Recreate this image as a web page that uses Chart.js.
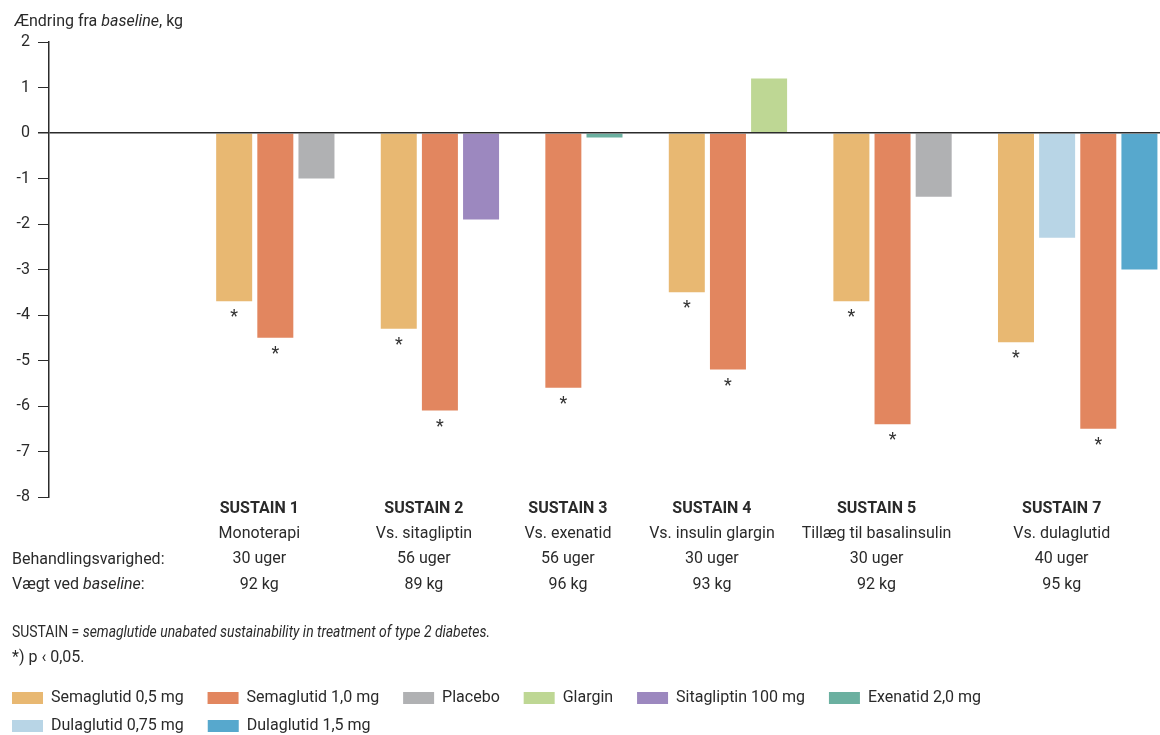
<!DOCTYPE html>
<html><head><meta charset="utf-8">
<script src="https://cdn.jsdelivr.net/npm/chart.js@4"></script>
<style>
html,body{margin:0;padding:0;background:#fff;overflow:hidden;}
#wrap{position:relative;width:1160px;height:744px;}
.txt{position:absolute;font-family:Roboto,sans-serif;color:#2a2a2a;white-space:nowrap;}
</style></head><body>
<div id="wrap"><canvas id="c"></canvas>
<div class="txt" style="left:14px;top:11px;font-size:16px;line-height:20px">Ændring fra <i>baseline</i>, kg</div>
<div class="txt" style="left:12px;top:546px;font-size:16px;line-height:25px">Behandlingsvarighed:</div>
<div class="txt" style="left:12px;top:571px;font-size:16px;line-height:25px">Vægt ved <i>baseline</i>:</div>
<div class="txt" style="left:12px;top:619px;font-size:16px;line-height:25px;transform:scaleX(0.87);transform-origin:0 50%">SUSTAIN = <i>semaglutide unabated sustainability in treatment of type 2 diabetes.</i></div>
<div class="txt" style="left:12px;top:644px;font-size:16px;line-height:25px">*) p ‹ 0,05.</div>
</div>
<script>
// ---- data ----
const groups = ["SUSTAIN 1","SUSTAIN 2","SUSTAIN 3","SUSTAIN 4","SUSTAIN 5","SUSTAIN 7"];
const comparisons = ["Monoterapi","Vs. sitagliptin","Vs. exenatid","Vs. insulin glargin","Tillæg til basalinsulin","Vs. dulaglutid"];
const durations = ["30 uger","56 uger","56 uger","30 uger","30 uger","40 uger"];
const baselineWeights = ["92 kg","89 kg","96 kg","93 kg","92 kg","95 kg"];
const seriesNames = ["Semaglutid 0,5 mg","Semaglutid 1,0 mg","Placebo","Glargin","Sitagliptin 100 mg","Exenatid 2,0 mg","Dulaglutid 0,75 mg","Dulaglutid 1,5 mg"];
const sema05      = [-3.7, -4.3, null, -3.5, -3.7, -4.6];
const sema10      = [-4.5, -6.1, -5.6, -5.2, -6.4, -6.5];
const placebo     = [-1.0, null, null, null, -1.4, null];
const glargin     = [null, null, null, 1.2, null, null];
const sitagliptin = [null, -1.9, null, null, null, null];
const exenatide   = [null, null, -0.1, null, null, null];
const dula075     = [null, null, null, null, null, -2.3];
const dula15      = [null, null, null, null, null, -3.0];
// significance (p < 0,05) per series per study
const sigSema05 = [true, true, false, true, true, true];
const sigSema10 = [true, true, true, true, true, true];
// bar order within each study (indices into seriesNames)
const barOrder = [[0,1,2],[0,1,4],[1,5],[0,1,3],[0,1,2],[0,6,1,7]];
const yMin = -8, yMax = 2, yStep = 1;

// ---- styles ----
const colors = ["#E8B872","#E2865F","#B0B1B3","#BED794","#9C88BF","#6BB0A0","#B8D5E6","#57A8CD"];
const textColor = "#2a2a2a";
const axisColor = "#2b2b2b";

// ---- build slots ----
const seriesValues = [sema05, sema10, placebo, glargin, sitagliptin, exenatide, dula075, dula15];
const seriesSig = [sigSema05, sigSema10, null, null, null, null, null, null];
const leadSlots = 4;
const slots = [];
for (let i = 0; i < leadSlots; i++) slots.push("slot" + slots.length);
const slotOf = seriesNames.map(() => ({}));
const groupCenters = [];
groups.forEach((g, gi) => {
  const start = slots.length;
  barOrder[gi].forEach(si => { slotOf[si][gi] = slots.length; slots.push("slot" + slots.length); });
  groupCenters.push((start + slots.length - 1) / 2);
  if (gi < groups.length - 1) slots.push("slot" + slots.length);
});
const datasets = seriesNames.map((name, si) => {
  const data = new Array(slots.length).fill(null);
  const sig = new Array(slots.length).fill(false);
  seriesValues[si].forEach((v, gi) => {
    if (v !== null && slotOf[si][gi] !== undefined) {
      data[slotOf[si][gi]] = v;
      if (seriesSig[si] && seriesSig[si][gi]) sig[slotOf[si][gi]] = true;
    }
  });
  return { label: name, data, sig, backgroundColor: colors[si], borderWidth: 0 };
});

Chart.defaults.font.family = "Roboto, sans-serif";
Chart.defaults.color = textColor;

const asteriskPlugin = {
  id: "asterisks",
  afterDatasetsDraw(chart) {
    const ctx = chart.ctx;
    ctx.save();
    ctx.font = "18px Roboto, sans-serif";
    ctx.fillStyle = "#333";
    ctx.textAlign = "center";
    ctx.textBaseline = "alphabetic";
    chart.data.datasets.forEach((ds, di) => {
      const meta = chart.getDatasetMeta(di);
      meta.data.forEach((el, i) => {
        if (ds.sig[i] && ds.data[i] !== null) {
          ctx.fillText("*", el.x, Math.max(el.y, el.base) + 21);
        }
      });
    });
    ctx.restore();
  }
};

const groupTicks = (scale) => { scale.ticks = groupCenters.map(v => ({ value: v })); };
const baseLegend = Chart.defaults.plugins.legend.labels.generateLabels;

new Chart(document.getElementById("c"), {
  type: "bar",
  data: { labels: slots, datasets },
  options: {
    responsive: true,
    maintainAspectRatio: false,
    animation: false,
    layout: { padding: { top: 42, left: 0, right: 0, bottom: 0 } },
    datasets: { bar: { grouped: false, categoryPercentage: 1, barPercentage: 0.875 } },
    plugins: {
      tooltip: { enabled: false },
      legend: {
        position: "bottom",
        align: "start",
        labels: {
          boxWidth: 31, boxHeight: 12, padding: 12, color: textColor,
          font: { size: 16 },
          generateLabels: (chart) => baseLegend(chart).map(l => Object.assign(l, { text: l.text + "   ", lineWidth: 0 }))
        }
      }
    },
    scales: {
      x: {
        type: "category", position: "bottom", weight: 0, offset: true,
        grid: { display: false, drawTicks: false }, border: { display: false },
        afterBuildTicks: groupTicks,
        afterFit: (s) => { s.height = 22; },
        ticks: {
          autoSkip: false, maxRotation: 0, minRotation: 0, padding: 2, labelOffset: -16,
          color: textColor, font: { size: 16, weight: "bold", lineHeight: "19px" },
          callback: (v, i) => groups[i]
        }
      },
      x2: {
        type: "category", labels: slots, position: "bottom", weight: 1, offset: true,
        grid: { display: false, drawTicks: false }, border: { display: false },
        afterBuildTicks: groupTicks,
        afterFit: (s) => { s.height = 159; },
        ticks: {
          autoSkip: false, maxRotation: 0, minRotation: 0, padding: 2, labelOffset: -16,
          color: textColor, font: { size: 16, lineHeight: "25.5px" },
          callback: (v, i) => [comparisons[i], durations[i], baselineWeights[i]]
        }
      },
      y: {
        min: yMin, max: yMax, position: "left",
        afterFit: (s) => { s.width = 49; },
        ticks: { stepSize: yStep, padding: 8, color: textColor, font: { size: 16 } },
        grid: {
          z: 1,
          color: (c) => (c.tick && c.tick.value === 0) ? axisColor : "rgba(0,0,0,0)",
          lineWidth: (c) => (c.tick && c.tick.value === 0) ? 1.5 : 1,
          tickColor: axisColor, tickLength: 11, drawTicks: true
        },
        border: { display: true, color: axisColor, width: 1.5, z: 2 }
      }
    }
  },
  plugins: [asteriskPlugin]
});
</script>
</body></html>
